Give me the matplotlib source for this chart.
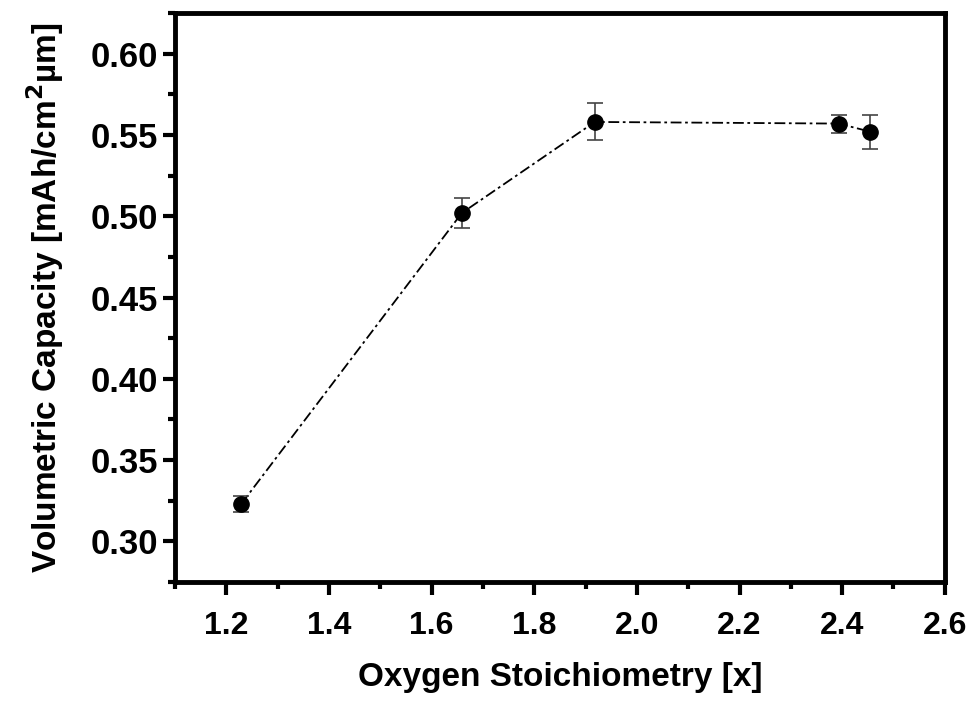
import matplotlib.pyplot as plt
import numpy as np
from matplotlib.ticker import MultipleLocator

# values
stoich = [1.229, 1.659, 1.918, 2.393, 2.455]
capacity = [0.323, 0.502, 0.558, 0.557, 0.552]
cap_err = [0.005, 0.0095, 0.0114, 0.0055, 0.0105]

plt.rcParams['font.family'] = ['Liberation Sans', 'DejaVu Sans']
plt.rcParams['font.weight'] = 'bold'
plt.rcParams['mathtext.default'] = 'regular'

fig = plt.figure(figsize=(9.75, 7.05), dpi=100)
ax = fig.add_axes([0.1795, 0.1745, 0.7895, 0.807])

ax.plot(stoich, capacity, color='black', linestyle='-.', linewidth=1.3,
        dashes=(6, 2, 1.5, 2))
ax.errorbar(stoich, capacity, yerr=cap_err, fmt='o', color='black',
            markersize=11, ecolor='#444444', elinewidth=1.2, capsize=5.5,
            capthick=1.2)

ax.set_xlim(1.1, 2.6)
ax.set_ylim(0.275, 0.625)
ax.xaxis.set_minor_locator(MultipleLocator(0.1))
ax.yaxis.set_minor_locator(MultipleLocator(0.025))
ax.set_xticks(np.arange(1.2, 2.61, 0.2))
ax.set_xticklabels(['1.2', '1.4', '1.6', '1.8', '2.0', '2.2', '2.4', '2.6'])
ax.set_yticks(np.arange(0.30, 0.601, 0.05))
ax.set_yticklabels(['0.30', '0.35', '0.40', '0.45', '0.50', '0.55', '0.60'])

for s in ax.spines.values():
    s.set_linewidth(3.5)
ax.tick_params(which='major', direction='out', length=9, width=3)
ax.tick_params(which='minor', direction='out', length=5, width=3)
ax.tick_params(axis='x', which='major', labelsize=23, pad=12)
ax.tick_params(axis='y', which='major', labelsize=25, pad=3)
for lab in ax.get_xticklabels() + ax.get_yticklabels():
    lab.set_fontweight('bold')

ax.set_xlabel('Oxygen Stoichiometry [x]', fontsize=24, fontweight='bold',
              labelpad=15)
ax.set_ylabel('Volumetric Capacity [mAh/cm$^{\\mathbf{2}}$\u00b5m]', fontsize=24,
              fontweight='bold', labelpad=18)

fig.savefig('out.png', dpi=100)
